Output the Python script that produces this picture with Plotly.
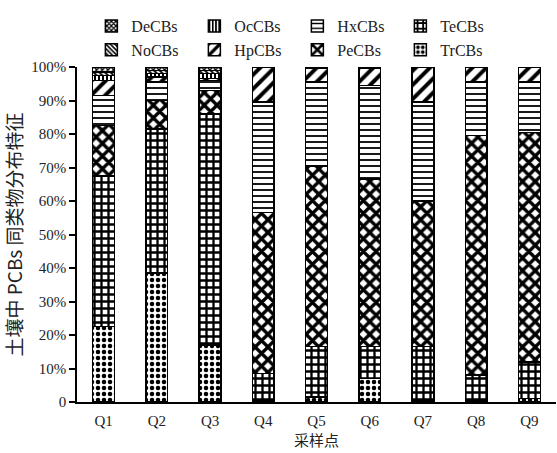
import plotly.graph_objects as go

sites = ["Q1", "Q2", "Q3", "Q4", "Q5", "Q6", "Q7", "Q8", "Q9"]
TrCBs = [22.5, 38.5, 17.0, 0.5, 1.5, 7.0, 0.5, 0.5, 1.0]
TeCBs = [45.0, 43.0, 69.0, 8.0, 15.0, 9.5, 16.0, 7.5, 11.0]
PeCBs = [15.0, 8.5, 7.0, 48.0, 54.0, 50.0, 43.5, 71.5, 68.5]
HxCBs = [9.0, 5.5, 3.0, 33.0, 25.0, 28.0, 29.5, 16.0, 15.0]
HpCBs = [4.5, 1.5, 0.5, 10.5, 4.0, 5.0, 10.5, 4.5, 4.5]
OcCBs = [1.5, 1.0, 1.5, 0.0, 0.5, 0.5, 0.0, 0.0, 0.0]
NoCBs = [1.0, 1.0, 1.0, 0.0, 0.0, 0.0, 0.0, 0.0, 0.0]
DeCBs = [1.5, 1.0, 1.0, 0.0, 0.0, 0.0, 0.0, 0.0, 0.0]

ytick_vals = [0, 10, 20, 30, 40, 50, 60, 70, 80, 90, 100]
ytick_text = ["0", "10%", "20%", "30%", "40%", "50%", "60%", "70%", "80%", "90%", "100%"]

# stacking order bottom -> top, with pattern styles
series = [
    ("TrCBs", TrCBs, dict(shape=".", size=6, solidity=0.45)),
    ("TeCBs", TeCBs, dict(shape="+", size=7, solidity=0.55)),
    ("PeCBs", PeCBs, dict(shape="x", size=9, solidity=0.6)),
    ("HxCBs", HxCBs, dict(shape="-", size=6, solidity=0.3)),
    ("HpCBs", HpCBs, dict(shape="/", size=10, solidity=0.4)),
    ("OcCBs", OcCBs, dict(shape="|", size=4, solidity=0.5)),
    ("NoCBs", NoCBs, dict(shape="\\", size=4, solidity=0.5)),
    ("DeCBs", DeCBs, dict(shape="x", size=4, solidity=0.6)),
]
legend_rank = {"DeCBs": 1, "OcCBs": 2, "HxCBs": 3, "TeCBs": 4,
               "NoCBs": 5, "HpCBs": 6, "PeCBs": 7, "TrCBs": 8}

fig = go.Figure()
for name, vals, pat in series:
    fig.add_trace(go.Bar(
        x=sites, y=vals, name=name,
        width=0.41,
        legendrank=legend_rank[name],
        marker=dict(color="white",
                    line=dict(color="black", width=1.5),
                    pattern=dict(fgcolor="black", bgcolor="white",
                                 fillmode="replace", **pat)),
    ))

serif = "Liberation Serif, Times New Roman, serif"
fig.update_layout(
    barmode="stack",
    width=557, height=453,
    margin=dict(l=77, r=1, t=67, b=51),
    paper_bgcolor="white", plot_bgcolor="white",
    font=dict(family=serif, size=14, color="black"),
    showlegend=True,
    legend=dict(orientation="h", x=0.03, xanchor="left", y=1.0, yanchor="bottom",
                yref="paper",
                traceorder="normal", entrywidth=58, entrywidthmode="pixels",
                font=dict(family=serif, size=16, color="#222"),
                itemwidth=30, tracegroupgap=0, bgcolor="rgba(0,0,0,0)"),
    xaxis=dict(showline=True, linecolor="black", linewidth=1.5,
               ticks="", ticklabelstandoff=4,
               tickfont=dict(family=serif, size=15, color="#222"),
               title=dict(text="采样点", font=dict(family="Noto Sans CJK SC", size=15, color="#222"),
                          standoff=4),
               showgrid=False),
    yaxis=dict(range=[0, 100], showline=True, linecolor="black", linewidth=1.5,
               ticks="outside", ticklen=6, tickwidth=1.5, tickcolor="black",
               tickvals=ytick_vals, ticktext=ytick_text,
               tickfont=dict(family=serif, size=15, color="#222"),
               title=dict(text="土壤中 PCBs 同类物分布特征",
                          font=dict(family="Noto Sans CJK SC", size=19, color="#222"),
                          standoff=4),
               showgrid=False, zeroline=False),
)

fig.write_html("out.html")
